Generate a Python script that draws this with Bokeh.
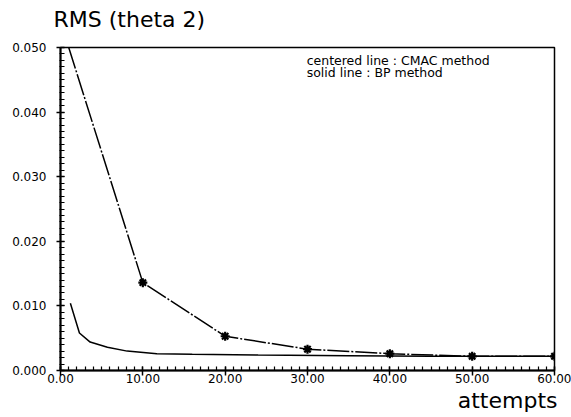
from bokeh.plotting import figure
from bokeh.models import Label, SingleIntervalTicker, PrintfTickFormatter, Range1d, Title
from bokeh.embed import file_html
from bokeh.resources import INLINE

# CMAC method (centered line) with markers at every 10 attempts
cmac_x = [1, 10, 20, 30, 40, 50, 60]
cmac_y = [0.0500, 0.0136, 0.0053, 0.0033, 0.0026, 0.0022, 0.0022]
cmac_mark_x = [10, 20, 30, 40, 50, 60]
cmac_mark_y = [0.0136, 0.0053, 0.0033, 0.0026, 0.0022, 0.0022]

# BP method (solid line)
bp_x = [1.2, 2.3, 3.6, 5.7, 8.1, 11.7, 16, 24, 35, 45, 60]
bp_y = [0.0104, 0.0058, 0.0044, 0.0036, 0.0030, 0.0026, 0.0025, 0.0024, 0.0023, 0.0022, 0.0022]

title_text = "RMS (theta 2)"
xlabel_text = "attempts"
legend_lines = ["centered line : CMAC method", "solid line : BP method"]

FONT = "DejaVu Sans"

p = figure(width=571, height=417, output_backend="svg", toolbar_location=None,
           x_range=Range1d(0, 60), y_range=Range1d(0, 0.050),
           min_border_left=60, min_border_right=17, min_border_top=47, min_border_bottom=47)

p.title.text = title_text
p.title.text_font = FONT
p.title.text_font_size = "22px"
p.title.text_font_style = "normal"
p.title.text_color = "black"
p.title.align = "left"
p.title.offset = -7
p.title.standoff = 0

# spacer between the title and the frame (pushes the title up)
p.add_layout(Title(text=" ", text_font_size="1px", standoff=13), "above")

# x-axis label, right-aligned at the axis end
p.add_layout(Title(text=xlabel_text, align="right", text_font=FONT, text_font_size="22px",
                   text_font_style="normal", text_color="black", offset=-3, standoff=0),
             "below")

p.grid.visible = False
p.background_fill_color = "white"
p.border_fill_color = "white"
p.outline_line_color = "black"
p.outline_line_width = 1.5

# axes
p.xaxis.ticker = SingleIntervalTicker(interval=10, num_minor_ticks=10)
p.yaxis.ticker = SingleIntervalTicker(interval=0.01, num_minor_ticks=10)
p.xaxis.formatter = PrintfTickFormatter(format="%.2f")
p.yaxis.formatter = PrintfTickFormatter(format="%.3f")
for ax in (p.xaxis, p.yaxis):
    ax.axis_line_color = "black"
    ax.axis_line_width = 2
    ax.major_tick_line_color = "black"
    ax.minor_tick_line_color = "black"
    ax.major_tick_line_width = 1.5
    ax.minor_tick_line_width = 1.2
    ax.major_label_text_font = FONT
    ax.major_label_text_font_size = "12px"
    ax.major_label_text_color = "black"
p.xaxis.major_tick_in = 4
p.xaxis.major_tick_out = 5
p.xaxis.minor_tick_in = 4
p.xaxis.minor_tick_out = 0
p.xaxis.major_label_standoff = -2
p.yaxis.major_tick_in = 4
p.yaxis.major_tick_out = 4
p.yaxis.minor_tick_in = 4
p.yaxis.minor_tick_out = 1
p.yaxis.major_label_standoff = 10

# data
p.line(cmac_x, cmac_y, line_color="black", line_width=1.5, line_dash="22 2 2 2")
p.scatter(cmac_mark_x, cmac_mark_y, marker="asterisk", size=9, line_color="black", line_width=2.2)
p.line(bp_x, bp_y, line_color="black", line_width=1.5)

# legend text
p.add_layout(Label(x=29.9, y=0.0480, text=legend_lines[0], text_font=FONT,
                   text_font_size="12.5px", text_color="black", text_baseline="alphabetic"))
p.add_layout(Label(x=29.9, y=0.04615, text=legend_lines[1], text_font=FONT,
                   text_font_size="12.5px", text_color="black", text_baseline="alphabetic"))

open("out.html", "w").write(file_html(p, INLINE))
